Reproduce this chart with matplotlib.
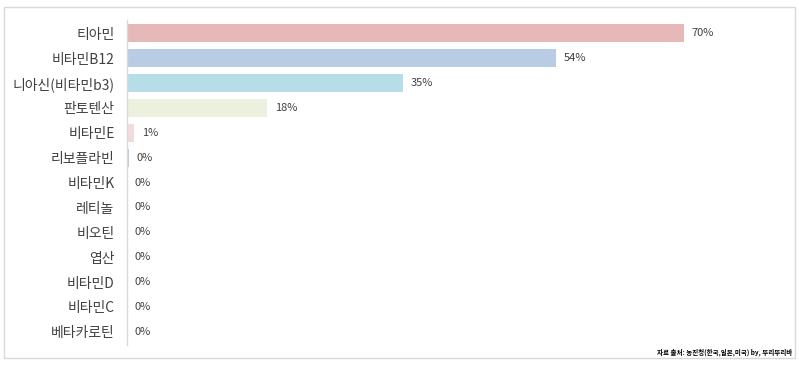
import matplotlib
matplotlib.use("Agg")
import matplotlib.pyplot as plt
from matplotlib.patches import Rectangle

plt.rcParams['font.family'] = ['Noto Sans CJK KR', 'DejaVu Sans']

categories = ["티아민", "비타민B12", "니아신(비타민b3)", "판토텐산", "비타민E", "리보플라빈",
              "비타민K", "레티놀", "비오틴", "엽산", "비타민D", "비타민C", "베타카로틴"]
values = [70, 53.9, 34.7, 17.6, 0.9, 0.2, 0, 0, 0, 0, 0, 0, 0]
value_labels = ["70%", "54%", "35%", "18%", "1%", "0%", "0%", "0%", "0%", "0%", "0%", "0%", "0%"]
colors = ["#E6B8B7", "#B8CCE4", "#B7DEE8", "#EBF1DE", "#F2DCDB", "#B8CCE4",
          "#B8CCE4", "#B8CCE4", "#B8CCE4", "#B8CCE4", "#B8CCE4", "#B8CCE4", "#B8CCE4"]
source = "자료 출처: 농진청(한국,일본,미국) by, 뚜리뚜리바"

W, H = 799, 365
fig = plt.figure(figsize=(W / 100, H / 100), dpi=100)
fig.patches.append(Rectangle((4 / W, 7 / H), 791 / W, 351 / H, transform=fig.transFigure,
                             fill=False, edgecolor="#D9D9D9", linewidth=1))

left, right = 127, 790
top, bottom = 20, 345
ax = fig.add_axes([left / W, 1 - bottom / H, (right - left) / W, (bottom - top) / H])

n = len(categories)
y = list(range(n))
ax.barh(y, values, height=0.72, color=colors)
ax.set_ylim(n - 0.5 + 0.03, -0.5 - 0.03)
xmax = 70 * (right - left) / (684 - left)
ax.set_xlim(0, xmax)

for yi, v, lab in zip(y, values, value_labels):
    ax.text(v + 1.0, yi, lab, va="center", ha="left", fontsize=8, color="#404040",
            fontweight="medium")

ax.set_yticks(y)
ax.set_yticklabels(categories, fontsize=10, color="#404040", fontweight="medium")
ax.tick_params(axis="y", length=0, pad=9)
ax.set_xticks([])
for s in ["top", "right", "bottom"]:
    ax.spines[s].set_visible(False)
ax.spines["left"].set_color("#D9D9D9")
ax.spines["left"].set_linewidth(1)
ax.patch.set_alpha(0)

fig.text(792 / W, 1 - 352 / H, source, ha="right", va="center", fontsize=4.7,
         fontweight="bold", color="#000000")

fig.savefig("out.png", dpi=100)
